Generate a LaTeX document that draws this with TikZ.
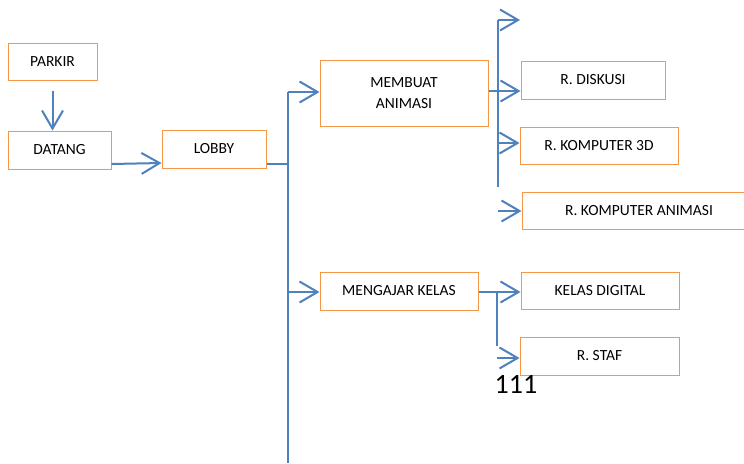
\documentclass[tikz,border=0pt]{standalone}
\usepackage{fontspec}
\setmainfont{Carlito}
\usetikzlibrary{arrows.meta}
\definecolor{boxorange}{HTML}{F79646}
\definecolor{lineblue}{HTML}{4F81BD}
\tikzset{
  roombox/.style={draw=boxorange, line width=1pt, rectangle, inner sep=0pt,
    font=\fontsize{15.5}{21}\selectfont, align=center},
  conn/.style={draw=lineblue, line width=2pt},
  arr/.style={conn, -{Straight Barb[length=18pt,width=21pt,line width=2pt]}},
}
\begin{document}
\begin{tikzpicture}[x=1pt,y=-1pt]
\useasboundingbox (0,0) rectangle (744,463);
\clip (0,0) rectangle (744,463);
\fill[white] (0,0) rectangle (744,463);

% boxes
\node[roombox, minimum width=89pt, minimum height=37pt] (parkir) at (52.5,61.5) {PARKIR};
\node[roombox, minimum width=103pt, minimum height=38pt] (datang) at (59.5,150) {DATANG};
\node[roombox, minimum width=104pt, minimum height=38pt] (lobby) at (214,149) {LOBBY};
\node[roombox, minimum width=168pt, minimum height=66pt] (membuat) at (404,93) {MEMBUAT\\ANIMASI};
\node[roombox, minimum width=158pt, minimum height=38pt] (mengajar) at (399,291) {MENGAJAR KELAS};
\node[roombox, minimum width=144pt, minimum height=38pt] (diskusi) at (593,80) {R. DISKUSI};
\node[roombox, minimum width=158pt, minimum height=37pt] (k3d) at (599,146) {R. KOMPUTER 3D};
\node[roombox, minimum width=234pt, minimum height=37pt] (kanim) at (639,210.5) {R. KOMPUTER ANIMASI};
\node[roombox, minimum width=158pt, minimum height=37pt] (kdig) at (600,290.5) {KELAS DIGITAL};
\node[roombox, minimum width=159pt, minimum height=38pt] (rstaf) at (599.5,356) {R. STAF};
\node[font=\fontsize{28}{30}\selectfont, inner sep=0pt] (num) at (516,384) {111};

% coordinates
\coordinate (t1) at (288,92);
\coordinate (t2) at (288,463);
\coordinate (tl) at (288,164);
\coordinate (tm) at (288,292);
\coordinate (s1) at (498,20);
\coordinate (s2) at (498,187);
\coordinate (sm) at (498,91);
\coordinate (sk) at (498,143);
\coordinate (topend) at (520,20);
\coordinate (ka) at (498,211);
\coordinate (u1) at (497,292);
\coordinate (u2) at (497,346);
\coordinate (ur) at (497,358);

% connectors
\draw[arr] ([yshift=-10pt]parkir.south) -- (parkir.south |- datang.north);
\draw[arr] ([yshift=-14pt]datang.east) -- ([yshift=-14pt]lobby.west);
\draw[conn] (lobby.east |- tl) -- (tl);
\draw[conn] (t1) -- (t2);
\draw[arr] (t1) -- (membuat.west |- t1);
\draw[arr] (tm) -- (mengajar.west |- tm);

\draw[conn] (membuat.east |- sm) -- (sm);
\draw[conn] (s1) -- (s2);
\draw[arr] (s1) -- (topend);
\draw[arr] (sm) -- (diskusi.west |- sm);
\draw[arr] (sk) -- (k3d.west |- sk);
\draw[arr] (ka) -- (kanim.west |- ka);

\draw[conn] (mengajar.east |- u1) -- (u1);
\draw[conn] (u1) -- (u2);
\draw[arr] (u1) -- (kdig.west |- u1);
\draw[arr] (ur) -- (rstaf.west |- ur);
\end{tikzpicture}
\end{document}
